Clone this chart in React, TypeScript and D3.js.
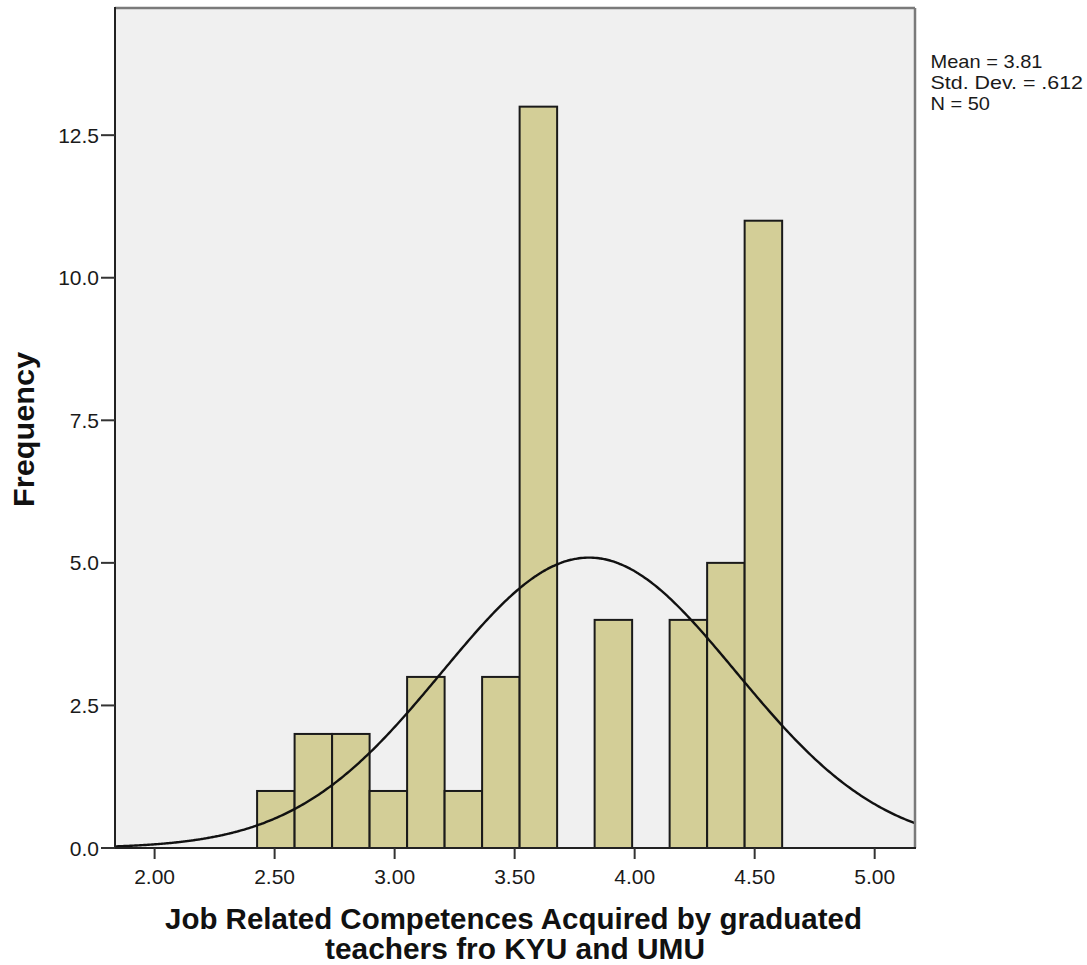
import React from "react";
import * as d3 from "d3";

const binStart = 2.427;
const binWidth = 0.15625;
const counts = [1, 2, 2, 1, 3, 1, 3, 13, 0, 4, 0, 4, 5, 11];
const xTicks = [2.0, 2.5, 3.0, 3.5, 4.0, 4.5, 5.0];
const yTicks = [0, 2.5, 5.0, 7.5, 10.0, 12.5];
const stats = { mean: 3.81, sd: 0.612, n: 50 };
const legendLines = ["Mean = 3.81", "Std. Dev. = .612", "N = 50"];
const xTitle = ["Job Related Competences Acquired by graduated", "teachers fro KYU and UMU"];
const yTitle = "Frequency";

const W = 1087;
const H = 965;
const L = 115, R = 915, T = 8, B = 848;

export default function App() {
  const x = d3.scaleLinear().domain([1.835, 5.168]).range([L, R]);
  const y = d3.scaleLinear().domain([0, 14.73]).range([B, T]);

  const bins = counts.map((c, i) => ({ x0: binStart + i * binWidth, x1: binStart + (i + 1) * binWidth, c }));

  const pdf = (v: number) =>
    (stats.n * binWidth) / (stats.sd * Math.sqrt(2 * Math.PI)) *
    Math.exp(-0.5 * Math.pow((v - stats.mean) / stats.sd, 2));
  const xs = d3.range(0, 401).map((i) => 1.835 + (i / 400) * (5.168 - 1.835));
  const line = d3.line<number>().x((v) => x(v)).y((v) => y(pdf(v))).curve(d3.curveBasis);

  const font = "'Liberation Sans', Arial, sans-serif";

  return (
    <svg width={W} height={H} style={{ position: "absolute", left: 0, top: 0 }} fontFamily={font}>
      <rect x={0} y={0} width={W} height={H} fill="#ffffff" />
      <rect x={L} y={T} width={R - L} height={B - T} fill="#f0f0f0" />
      <defs>
        <clipPath id="plotclip">
          <rect x={L} y={T} width={R - L} height={B - T} />
        </clipPath>
      </defs>
      {bins.filter((b) => b.c > 0).map((b, i) => (
        <rect
          key={i}
          x={x(b.x0)}
          y={y(b.c)}
          width={x(b.x1) - x(b.x0)}
          height={y(0) - y(b.c)}
          fill="#d3ce97"
          stroke="#1a1a1a"
          strokeWidth={2}
        />
      ))}
      <path d={line(xs) || ""} fill="none" stroke="#111" strokeWidth={2.4} clipPath="url(#plotclip)" />
      {/* frame */}
      <line x1={L} y1={T} x2={R} y2={T} stroke="#7a7a7a" strokeWidth={2.5} />
      <line x1={R} y1={T} x2={R} y2={B} stroke="#7a7a7a" strokeWidth={2.5} />
      <line x1={L} y1={T - 1} x2={L} y2={B + 1} stroke="#222" strokeWidth={2} />
      <line x1={L - 1} y1={B} x2={R + 1} y2={B} stroke="#222" strokeWidth={2} />
      {/* y ticks */}
      {yTicks.map((t) => (
        <g key={t}>
          <line x1={101} x2={L} y1={y(t)} y2={y(t)} stroke="#333" strokeWidth={2} />
          <text x={99} y={y(t) + 7.5} textAnchor="end" fontSize={21} fill="#1a1a1a">
            {t.toFixed(1)}
          </text>
        </g>
      ))}
      {/* x ticks */}
      {xTicks.map((t) => (
        <g key={t}>
          <line x1={x(t)} x2={x(t)} y1={B} y2={B + 11} stroke="#333" strokeWidth={2} />
          <text x={x(t)} y={884} textAnchor="middle" fontSize={21} fill="#1a1a1a">
            {t.toFixed(2)}
          </text>
        </g>
      ))}
      {/* titles */}
      <text x={513.5} y={929} textAnchor="middle" fontSize={29} fontWeight="bold" fill="#111"
        textLength={697} lengthAdjust="spacingAndGlyphs">{xTitle[0]}</text>
      <text x={515} y={959} textAnchor="middle" fontSize={29} fontWeight="bold" fill="#111"
        textLength={380} lengthAdjust="spacingAndGlyphs">{xTitle[1]}</text>
      <text transform={`translate(34,429.5) rotate(-90)`} textAnchor="middle" fontSize={29.5} fontWeight="bold" fill="#111"
        textLength={155} lengthAdjust="spacingAndGlyphs">{yTitle}</text>
      {/* legend */}
      {legendLines.map((s, i) => (
        <text key={s} x={930.5} y={68 + i * 21} fontSize={19} fill="#1a1a1a"
          textLength={[112, 152.5, 59.5][i]} lengthAdjust="spacingAndGlyphs">{s}</text>
      ))}
    </svg>
  );
}
